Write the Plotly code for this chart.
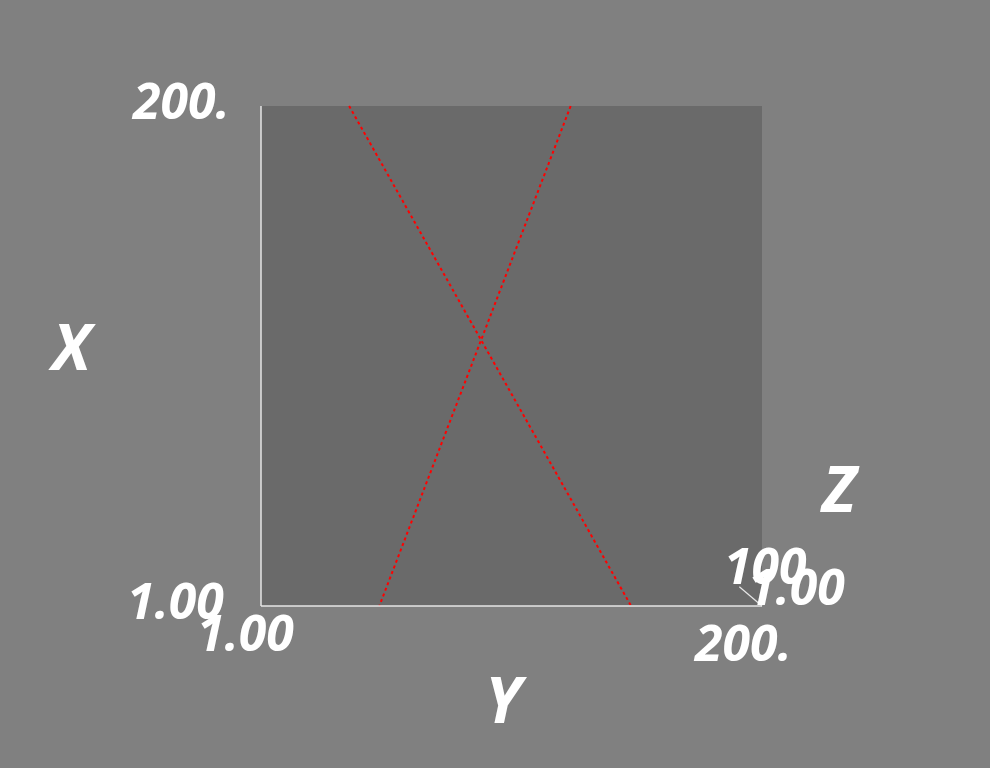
import plotly.graph_objects as go

# ---- data ----
y_range = [1, 200]          # horizontal axis ("Y")
x_range = [1, 200]          # vertical axis ("X")
z_range = [1, 100]          # depth axis ("Z")
x_tick_labels = ["1.00", "200."]
y_tick_labels = ["1.00", "200."]
z_tick_labels = ["1.00", "100"]
line1_y = [36, 148]
line1_x = [200, 1]
line2_y = [124, 48]
line2_x = [200, 1]

BG = "#808080"
PLANE = "#6a6a6a"
AX = "#e6e6e6"
FONT = dict(family="Open Sans", color="white", size=50, style="italic", weight=700)

fig = go.Figure()

# slice plane
fig.add_trace(go.Scatter(
    x=[y_range[0], y_range[1], y_range[1], y_range[0], y_range[0]],
    y=[x_range[1], x_range[1], x_range[0], x_range[0], x_range[1]],
    mode="lines", fill="toself", fillcolor=PLANE, line=dict(width=0),
    hoverinfo="skip", showlegend=False))

# red lines
for ly, lx in [(line1_y, line1_x), (line2_y, line2_x)]:
    fig.add_trace(go.Scatter(x=ly, y=lx, mode="lines",
                             line=dict(color="#ff0000", width=2, dash="dot"),
                             showlegend=False, hoverinfo="skip"))

# axis lines
fig.add_trace(go.Scatter(x=[y_range[0], y_range[0]], y=[x_range[0], x_range[1]],
                         mode="lines", line=dict(color=AX, width=1.5),
                         showlegend=False, hoverinfo="skip"))
fig.add_trace(go.Scatter(x=[y_range[0], y_range[1]], y=[x_range[0], x_range[0]],
                         mode="lines", line=dict(color=AX, width=1.5),
                         showlegend=False, hoverinfo="skip"))
# z axis (depth), drawn foreshortened toward upper-left from the corner
zf = 0.09
fig.add_trace(go.Scatter(
    x=[y_range[1], y_range[1] - z_range[1] * zf],
    y=[x_range[0], x_range[0] + z_range[1] * zf * 0.85],
    mode="lines", line=dict(color=AX, width=1.2),
    showlegend=False, hoverinfo="skip"))

ann = []
def add(text, xv, yv, xs, ys, size=50):
    f = dict(FONT)
    f["size"] = size
    ann.append(dict(x=xv, y=yv, xref="x", yref="y", text=text, showarrow=False,
                    xshift=xs, yshift=ys, font=f, xanchor="center", yanchor="middle"))

add(x_tick_labels[1], y_range[0], x_range[1], -81, 6)
add(x_tick_labels[0], y_range[0], x_range[0], -86, 6)
add("X", y_range[0], (x_range[0] + x_range[1]) / 2, -189, 11, 64)
add(y_tick_labels[0], y_range[0], x_range[0], -16, -26)
add(y_tick_labels[1], y_range[1], x_range[0], -20, -36)
add("Y", (y_range[0] + y_range[1]) / 2, x_range[0], -6, -92, 64)
add(z_tick_labels[1], y_range[1], x_range[0], 3, 41)
add(z_tick_labels[0], y_range[1], x_range[0], 34, 20)
add("Z", y_range[1], x_range[0], 78, 119, 64)

sx = 501 / 199.0
sy = 500 / 199.0
xr0 = 1 - 261 / sx
yr0 = 1 - 162 / sy
fig.update_layout(
    width=990, height=768, autosize=False,
    margin=dict(l=0, r=0, t=0, b=0),
    paper_bgcolor=BG, plot_bgcolor=BG,
    xaxis=dict(range=[xr0, xr0 + 990 / sx], visible=False, fixedrange=True),
    yaxis=dict(range=[yr0, yr0 + 768 / sy], visible=False, fixedrange=True),
    annotations=ann,
)
fig.write_html(
    "out.html",
    config={"displayModeBar": False},
    post_script="document.body.style.margin='0';document.body.style.background='#808080';document.body.style.overflow='hidden';",
)
